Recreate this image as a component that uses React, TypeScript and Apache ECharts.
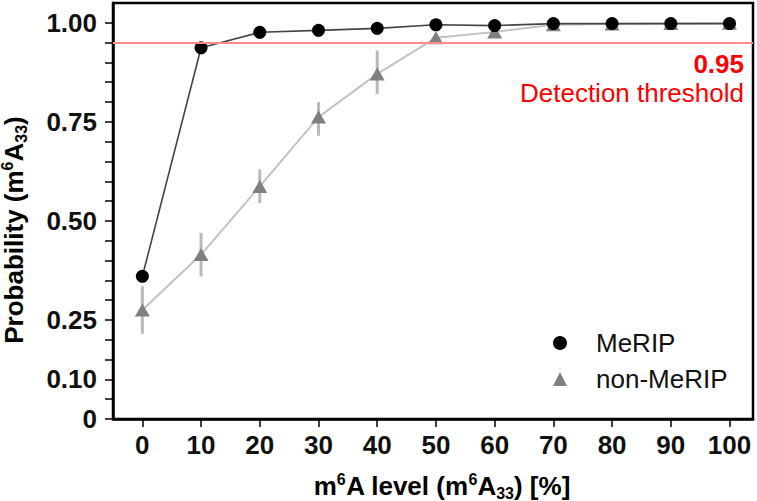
import React, { useEffect, useRef } from "react";
import * as echarts from "echarts";

const xLevels = [0, 10, 20, 30, 40, 50, 60, 70, 80, 90, 100];
const meripValues = [0.36, 0.937, 0.976, 0.981, 0.986, 0.995, 0.993, 0.998, 0.998, 0.998, 0.998];
const nonMeripValues = [0.275, 0.415, 0.587, 0.762, 0.871, 0.962, 0.977, 0.995, 0.997, 0.998, 0.999];
const nonMeripLow = [0.215, 0.36, 0.545, 0.715, 0.82, 0.952, 0.965, 0.99, 0.99, 0.992, 0.995];
const nonMeripHigh = [0.335, 0.47, 0.63, 0.8, 0.93, 0.972, 0.989, 1.0, 1.004, 1.004, 1.003];
const thresholdValue = 0.95;

const xTickValues = [0, 10, 20, 30, 40, 50, 60, 70, 80, 90, 100];
const yTickValues = [0, 0.05, 0.1, 0.15, 0.2, 0.25, 0.3, 0.35, 0.4, 0.45, 0.5, 0.55, 0.6, 0.65, 0.7, 0.75, 0.8, 0.85, 0.9, 0.95, 1.0];
const yLabelValues = [0, 0.1, 0.25, 0.5, 0.75, 1.0];
const yLabelTexts = ["0", "0.10", "0.25", "0.50", "0.75", "1.00"];

const FONT = "'Liberation Sans', Arial, sans-serif";

export default function App() {
  const ref = useRef<HTMLDivElement>(null);
  useEffect(() => {
    if (!ref.current) return;
    const chart = echarts.init(ref.current, undefined, { renderer: "svg" });
    const meripData = xLevels.map((x, i) => [x, meripValues[i]]);
    const nonMeripData = xLevels.map((x, i) => [x, nonMeripValues[i]]);
    const errData = xLevels.map((x, i) => [x, nonMeripLow[i], nonMeripHigh[i]]);

    const titleRich = {
      b: { fontFamily: FONT, fontWeight: "bold", fontSize: 26, lineHeight: 30, color: "#111" },
      sup: { fontFamily: FONT, fontWeight: "bold", fontSize: 16, lineHeight: 16, verticalAlign: "top", color: "#111" },
      sub: { fontFamily: FONT, fontWeight: "bold", fontSize: 16, lineHeight: 16, verticalAlign: "bottom", color: "#111" },
    };

    chart.setOption({
      animation: false,
      backgroundColor: "#fff",
      textStyle: { fontFamily: FONT },
      grid: {
        left: 113,
        top: 3,
        right: 4,
        bottom: 82,
        show: true,
        borderColor: "#000",
        borderWidth: 2.5,
        containLabel: false,
      },
      xAxis: {
        type: "value",
        min: -5,
        max: 104,
        splitLine: { show: false },
        axisLine: { show: true, onZero: false, lineStyle: { color: "#000", width: 2.5 } },
        axisTick: { show: true, length: 8, lineStyle: { color: "#000", width: 1.5 }, customValues: xTickValues },
        axisLabel: {
          customValues: xTickValues,
          margin: 13,
          fontFamily: FONT,
          fontWeight: "bold",
          fontSize: 26,
          color: "#111",
        },
      },
      yAxis: {
        type: "value",
        min: 0,
        max: 1.05,
        splitLine: { show: false },
        axisLine: { show: true, onZero: false, lineStyle: { color: "#000", width: 2.5 } },
        axisTick: { show: true, length: 8, lineStyle: { color: "#000", width: 1.5 }, customValues: yTickValues },
        axisLabel: {
          customValues: yLabelValues,
          margin: 16,
          fontFamily: FONT,
          fontWeight: "bold",
          fontSize: 26,
          color: "#111",
          formatter: (v: number) => {
            const idx = yLabelValues.findIndex((t) => Math.abs(t - v) < 1e-6);
            return idx >= 0 ? yLabelTexts[idx] : "";
          },
        },
      },
      legend: {
        left: 553,
        top: 330,
        orient: "vertical",
        padding: 0,
        itemWidth: 14,
        itemHeight: 14,
        itemGap: 10,
        textStyle: { fontFamily: FONT, fontSize: 26, color: "#111", lineHeight: 24, padding: [0, 0, 0, 24] },
        data: [
          { name: "MeRIP", icon: "circle" },
          { name: "non-MeRIP", icon: "triangle" },
        ],
      },
      graphic: [
        {
          type: "text",
          x: 14,
          y: 230,
          rotation: Math.PI / 2,
          style: {
            text: "{b|Probability (m}{sup|6}{b|A}{sub|33}{b|)}",
            rich: titleRich,
            align: "center",
            verticalAlign: "middle",
          },
        },
        {
          type: "text",
          x: 442,
          y: 486,
          style: {
            text: "{b|m}{sup|6}{b|A level (m}{sup|6}{b|A}{sub|33}{b|) [%]}",
            rich: titleRich,
            align: "center",
            verticalAlign: "middle",
          },
        },
        {
          type: "text",
          x: 744,
          y: 64,
          style: {
            text: thresholdValue.toFixed(2),
            fontFamily: FONT,
            fontWeight: "bold",
            fontSize: 26,
            fill: "#ff0000",
            align: "right",
            verticalAlign: "middle",
          },
        },
        {
          type: "text",
          x: 744,
          y: 93,
          style: {
            text: "Detection threshold",
            fontFamily: FONT,
            fontSize: 26,
            fill: "#ff0000",
            align: "right",
            verticalAlign: "middle",
          },
        },
      ],
      series: [
        {
          type: "custom",
          name: "err",
          z: 1,
          silent: true,
          encode: { x: 0, y: [1, 2] },
          data: errData,
          renderItem: (params: any, api: any) => {
            const x = api.value(0);
            const p1 = api.coord([x, api.value(1)]);
            const p2 = api.coord([x, api.value(2)]);
            return {
              type: "line",
              shape: { x1: p1[0], y1: p1[1], x2: p2[0], y2: p2[1] },
              style: { stroke: "#b9b9b9", lineWidth: 3 },
            };
          },
        },
        {
          type: "line",
          name: "non-MeRIP",
          z: 2,
          data: nonMeripData,
          symbol: "triangle",
          symbolSize: [15, 13],
          itemStyle: { color: "#7f7f7f" },
          lineStyle: { color: "#c2c2c2", width: 2 },
          markLine: {
            silent: true,
            symbol: "none",
            label: { show: false },
            lineStyle: { color: "#ff8a8a", width: 2, type: "solid" },
            data: [{ yAxis: thresholdValue }],
          },
        },
        {
          type: "line",
          name: "MeRIP",
          z: 3,
          data: meripData,
          symbol: "circle",
          symbolSize: 13,
          itemStyle: { color: "#000" },
          lineStyle: { color: "#444", width: 1.6 },
        },
      ],
    });
    return () => chart.dispose();
  }, []);
  return (
    <div
      ref={ref}
      style={{ position: "fixed", left: 0, top: 0, width: 757, height: 501, background: "#fff" }}
    />
  );
}
